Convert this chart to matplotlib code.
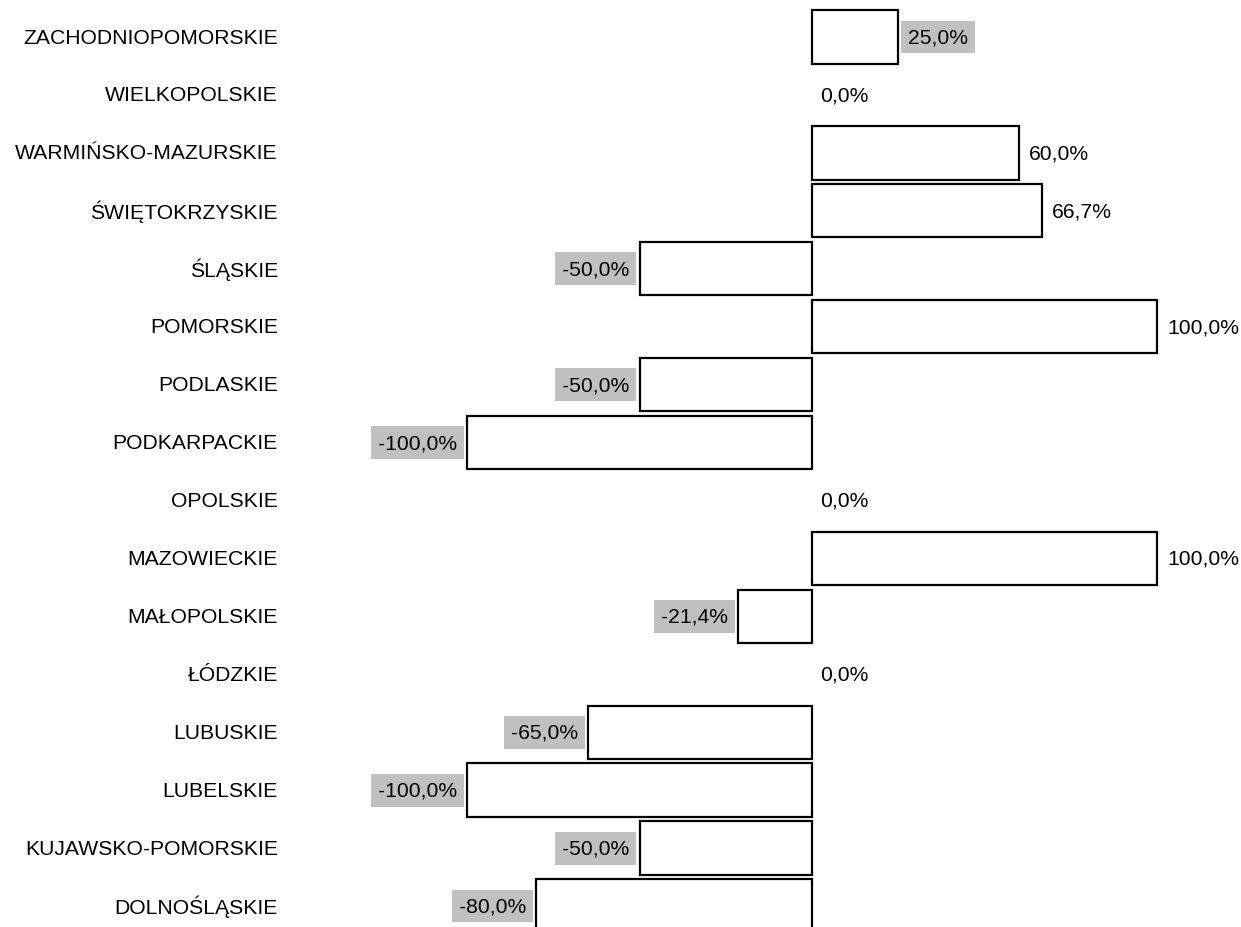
import matplotlib
matplotlib.use("Agg")
import matplotlib.pyplot as plt
from matplotlib.transforms import blended_transform_factory

categories = ["DOLNOŚLĄSKIE", "KUJAWSKO-POMORSKIE", "LUBELSKIE", "LUBUSKIE", "ŁÓDZKIE",
              "MAŁOPOLSKIE", "MAZOWIECKIE", "OPOLSKIE", "PODKARPACKIE", "PODLASKIE",
              "POMORSKIE", "ŚLĄSKIE", "ŚWIĘTOKRZYSKIE", "WARMIŃSKO-MAZURSKIE",
              "WIELKOPOLSKIE", "ZACHODNIOPOMORSKIE"]
values = [-80.0, -50.0, -100.0, -65.0, 0.0, -21.4, 100.0, 0.0, -100.0, -50.0,
          100.0, -50.0, 66.7, 60.0, 0.0, 25.0]
highlighted = [True, True, True, True, False, True, False, False, True, True,
               False, True, False, False, False, True]

plt.rcParams['font.family'] = ['Liberation Sans', 'DejaVu Sans']
W, H = 1241, 928
fig = plt.figure(figsize=(W / 100, H / 100), dpi=100)
ax = fig.add_axes([467 / W, 0, (1157 - 467) / W, 1])
ax.set_xlim(-100, 100)
row = 57.93
ax.set_ylim(-(928 - 907) / row, 15 + 38 / row)
ax.axis('off')

ys = list(range(len(categories)))
lws = [0 if v == 0 else 1.6 for v in values]
ax.barh(ys, values, height=0.92, color='white', edgecolor='black', linewidth=lws, clip_on=False)

px = 200 / 690  # data units per pixel
fs = 15.2
for y, v, hl in zip(ys, values, highlighted):
    label = f"{v:.1f}%".replace('.', ',')
    if v < 0:
        x = v - 10 * px
        ha = 'right'
    else:
        x = v + 10 * px if v > 0 else 8 * px
        ha = 'left'
    kw = {}
    if hl:
        kw['bbox'] = dict(boxstyle='square,pad=0.33', facecolor='#c0c0c0', edgecolor='none')
    ax.text(x, y, label, ha=ha, va='center', fontsize=fs, color='black', **kw)

tr = blended_transform_factory(fig.transFigure, ax.transData)
for y, c in zip(ys, categories):
    ax.text(278 / W, y, c, ha='right', va='center', fontsize=fs, color='black', transform=tr)

fig.savefig('out.png', dpi=100)
